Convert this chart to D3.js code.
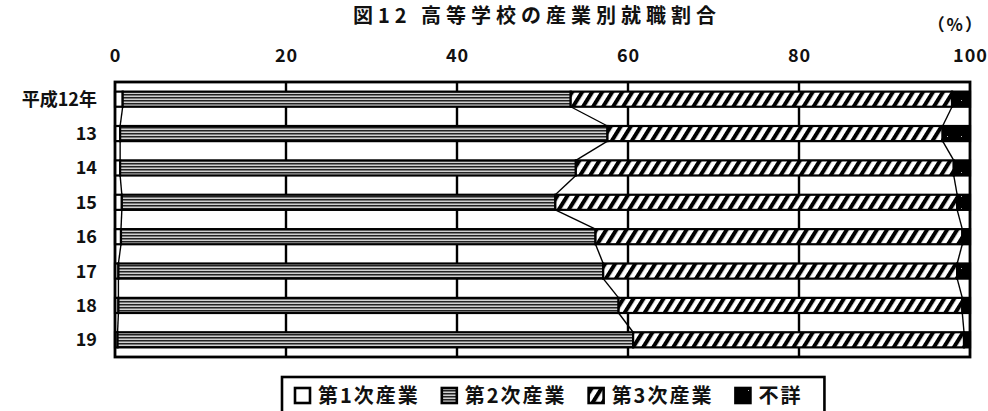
<!DOCTYPE html>
<html>
<head>
<meta charset="utf-8">
<script src="https://cdn.jsdelivr.net/npm/d3@7"></script>
<style>
  body { margin: 0; background: #fff; }
  svg text { font-family: "Noto Sans CJK JP", "Noto Sans", sans-serif; fill: #111; }
</style>
</head>
<body>
<svg id="chart"></svg>
<script>
// data (percent)
const years = ["平成12年", "13", "14", "15", "16", "17", "18", "19"];
const primary = [0.9, 0.6, 0.6, 0.8, 0.7, 0.4, 0.4, 0.3];
const secondary = [52.4, 57.0, 53.3, 50.7, 55.5, 56.7, 58.5, 60.3];
const tertiary = [44.6, 39.2, 44.2, 47.0, 42.9, 41.4, 40.2, 38.7];
const unknown = [2.1, 3.2, 1.9, 1.5, 0.9, 1.5, 0.9, 0.7];
const seriesNames = ["第1次産業", "第2次産業", "第3次産業", "不詳"];
const xTicks = [0, 20, 40, 60, 80, 100];

const W = 988, H = 411;
const margin = { top: 82, right: 18, bottom: 54, left: 115 };
const width = W - margin.left - margin.right;
const height = H - margin.top - margin.bottom;

const svg = d3.select("#chart").attr("width", W).attr("height", H);

// patterns
const defs = svg.append("defs");
const pStripe = defs.append("pattern").attr("id", "pStripe")
  .attr("patternUnits", "userSpaceOnUse").attr("width", 6).attr("height", 3);
pStripe.append("rect").attr("width", 6).attr("height", 3).attr("fill", "#d0d0d0");
pStripe.append("rect").attr("y", 0).attr("width", 6).attr("height", 1.5).attr("fill", "#222");

const pHatch = defs.append("pattern").attr("id", "pHatch")
  .attr("patternUnits", "userSpaceOnUse").attr("width", 8.5).attr("height", 8)
  .attr("patternTransform", "rotate(32)");
pHatch.append("rect").attr("width", 8.5).attr("height", 8).attr("fill", "#fff");
pHatch.append("rect").attr("x", 0).attr("width", 4).attr("height", 8).attr("fill", "#000");

const pDot = defs.append("pattern").attr("id", "pDot")
  .attr("patternUnits", "userSpaceOnUse").attr("width", 14).attr("height", 12);
pDot.append("rect").attr("width", 14).attr("height", 12).attr("fill", "#000");
pDot.append("rect").attr("x", 6).attr("y", 6).attr("width", 1).attr("height", 1).attr("fill", "#bbb");

const fills = ["#fff", "url(#pStripe)", "url(#pHatch)", "url(#pDot)"];

const table = years.map((y, i) => ({
  year: y,
  "第1次産業": primary[i], "第2次産業": secondary[i],
  "第3次産業": tertiary[i], "不詳": unknown[i]
}));
const stacked = d3.stack().keys(seriesNames)(table);

const x = d3.scaleLinear().domain([0, 100]).range([0, width]);
const y = d3.scaleBand().domain(years).range([0, height])
  .paddingInner(0.56).paddingOuter(0.28);

const g = svg.append("g").attr("transform", `translate(${margin.left},${margin.top})`);

// grid lines
g.selectAll(".grid").data(xTicks.slice(1, -1)).enter().append("line")
  .attr("x1", d => x(d)).attr("x2", d => x(d))
  .attr("y1", 0).attr("y2", height)
  .attr("stroke", "#000").attr("stroke-width", 2.4);

// bars
stacked.forEach((s, si) => {
  g.append("g").selectAll("rect").data(s).enter().append("rect")
    .attr("x", d => x(d[0]))
    .attr("y", d => y(d.data.year))
    .attr("width", d => x(d[1]) - x(d[0]))
    .attr("height", y.bandwidth())
    .attr("fill", fills[si])
    .attr("stroke", "#000").attr("stroke-width", 2.2);
});

// series lines between bars
stacked.slice(0, 3).forEach(s => {
  const pts = s.slice(0, -1).map((d, i) => [
    [x(d[1]), y(d.data.year) + y.bandwidth()],
    [x(s[i + 1][1]), y(s[i + 1].data.year)]
  ]);
  g.append("g").selectAll("line").data(pts).enter().append("line")
    .attr("x1", d => d[0][0]).attr("y1", d => d[0][1])
    .attr("x2", d => d[1][0]).attr("y2", d => d[1][1])
    .attr("stroke", "#000").attr("stroke-width", 1.4);
});

// frame
g.append("rect").attr("width", width).attr("height", height)
  .attr("fill", "none").attr("stroke", "#000").attr("stroke-width", 2.8);

// top axis
const xAxis = g.append("g")
  .call(d3.axisTop(x).tickValues(xTicks).tickSize(0).tickPadding(20));
xAxis.select(".domain").remove();
xAxis.selectAll("text")
  .style("font-family", '"Noto Sans CJK JP", sans-serif')
  .style("font-size", "18px").style("font-weight", "bold")
  .style("letter-spacing", "1px").attr("fill", "#111");

// category labels
g.selectAll(".ylab").data(years).enter().append("text")
  .attr("x", -18).attr("y", d => y(d) + y.bandwidth() / 2)
  .attr("dy", "0.36em").attr("text-anchor", "end")
  .style("font-size", "18px").style("font-weight", "bold")
  .text(d => d);

// title
svg.append("text").attr("x", 537).attr("y", 23).attr("text-anchor", "middle")
  .style("font-size", "20px").style("font-weight", "bold")
  .style("letter-spacing", "5px")
  .text("図12 高等学校の産業別就職割合");

svg.append("text").attr("x", 984).attr("y", 31).attr("text-anchor", "end")
  .style("font-size", "17px").style("font-weight", "bold")
  .style("letter-spacing", "2px")
  .text("（%）");

// legend
const legend = svg.append("g");
const legX = 282, legY = 377;
let cx = legX + 13;
const items = legend.selectAll("g").data(seriesNames).enter().append("g");
items.each(function(d, i) {
  const it = d3.select(this);
  it.append("rect").attr("x", cx).attr("y", 388).attr("width", 15).attr("height", 15)
    .attr("fill", fills[i]).attr("stroke", "#000").attr("stroke-width", 2.6);
  const t = it.append("text").attr("x", cx + 23).attr("y", 403)
    .style("font-size", "20px").style("font-weight", "bold")
    .style("letter-spacing", "2px").text(d);
  cx += 23 + t.node().getComputedTextLength() + 22;
});
legend.insert("rect", ":first-child")
  .attr("x", legX).attr("y", legY).attr("width", cx - legX).attr("height", 40)
  .attr("fill", "#fff").attr("stroke", "#000").attr("stroke-width", 2.6);
</script>
</body>
</html>
